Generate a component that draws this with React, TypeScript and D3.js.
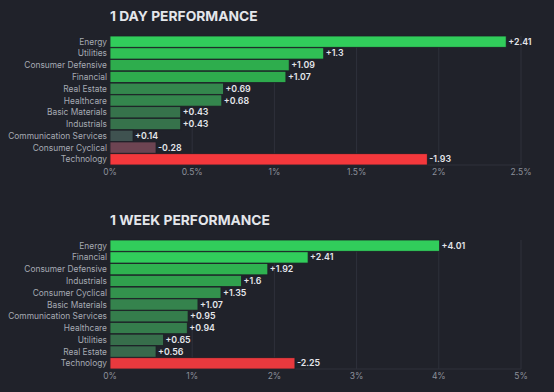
import React from 'react';
import * as d3 from 'd3';

const W = 554;
const H = 392;

const dayCategories = ['Energy', 'Utilities', 'Consumer Defensive', 'Financial', 'Real Estate', 'Healthcare',
  'Basic Materials', 'Industrials', 'Communication Services', 'Consumer Cyclical', 'Technology'];
const dayValues = [2.41, 1.3, 1.09, 1.07, 0.69, 0.68, 0.43, 0.43, 0.14, -0.28, -1.93];
const dayTicks = [0, 0.5, 1, 1.5, 2, 2.5];

const weekCategories = ['Energy', 'Financial', 'Consumer Defensive', 'Industrials', 'Consumer Cyclical',
  'Basic Materials', 'Communication Services', 'Healthcare', 'Utilities', 'Real Estate', 'Technology'];
const weekValues = [4.01, 2.41, 1.92, 1.6, 1.35, 1.07, 0.95, 0.94, 0.65, 0.56, -2.25];
const weekTicks = [0, 1, 2, 3, 4, 5];

const FONT = 'Inter, "Noto Sans", sans-serif';

type PanelProps = {
  title: string;
  categories: string[];
  values: number[];
  ticks: number[];
  top: number;
};

function Panel({title, categories, values, ticks, top}: PanelProps) {
  const x = d3.scaleLinear().domain([0, ticks[ticks.length - 1]]).range([110, 521]);
  const y = d3.scaleBand<string>().domain(categories).range([top + 20, top + 149]).paddingInner(0.04);
  const max = d3.max(values) as number;

  // colour depends on how big the move is compared to the panel's biggest one
  const green = d3.scaleLinear<string>()
    .domain([0, 0.06, 0.15, 0.3, 0.45, 0.6])
    .range(['#414452', '#3f5250', '#376c4b', '#348a4d', '#2eac4d', '#31cd5b'])
    .clamp(true);
  const red = d3.scaleLinear<string>()
    .domain([0, 0.12, 0.6])
    .range(['#414452', '#6e4452', '#f4383c'])
    .clamp(true);
  const color = (v: number) => (v >= 0 ? green(v / max) : red(-v / max));

  const plotTop = y.range()[0];
  const plotBottom = y.range()[1];

  return (
    <g>
      <text x={110} y={top + 5} fill="#e4e6ea" fontSize={13.8} fontWeight={700} fontFamily={FONT}>{title}</text>
      {ticks.map(t => (
        <line key={'g' + t} x1={x(t)} x2={x(t)} y1={plotTop} y2={plotBottom} stroke="#2e313b" strokeWidth={1}/>
      ))}
      <line x1={x(0)} x2={x(ticks[ticks.length - 1])} y1={plotBottom} y2={plotBottom} stroke="#2e313b"/>
      {ticks.map(t => (
        <text key={'t' + t} x={x(t)} y={plotBottom + 10} fill="#8c909a" fontSize={8.5} textAnchor="middle"
              fontFamily={FONT}>{d3.format('~g')(t) + '%'}</text>
      ))}
      {categories.map((c, i) => {
        const v = values[i];
        const by = y(c) as number;
        const bw = x(Math.abs(v)) - x(0);
        return (
          <g key={c}>
            <text x={107} y={by + y.bandwidth() / 2 + 3} fill="#a6aab3" fontSize={8.4} textAnchor="end"
                  fontFamily={FONT}>{c}</text>
            <rect x={x(0)} y={by} width={bw} height={y.bandwidth()} fill={color(v)}
                  stroke="#1d1f26" strokeWidth={0.8}/>
            <text x={x(0) + bw + 2} y={by + y.bandwidth() / 2 + 3} fill="#e4e6ea" fontSize={8.8}
                  fontWeight={600} fontFamily={FONT}>{(v > 0 ? '+' : '') + v}</text>
          </g>
        );
      })}
    </g>
  );
}

export default function App() {
  return (
    <div style={{position: 'absolute', left: 0, top: 0}}>
      <svg width={W} height={H} style={{display: 'block'}}>
        <rect width={W} height={H} fill="#20222a"/>
        <Panel title="1 DAY PERFORMANCE" categories={dayCategories} values={dayValues} ticks={dayTicks} top={16}/>
        <Panel title="1 WEEK PERFORMANCE" categories={weekCategories} values={weekValues} ticks={weekTicks} top={220}/>
      </svg>
    </div>
  );
}
